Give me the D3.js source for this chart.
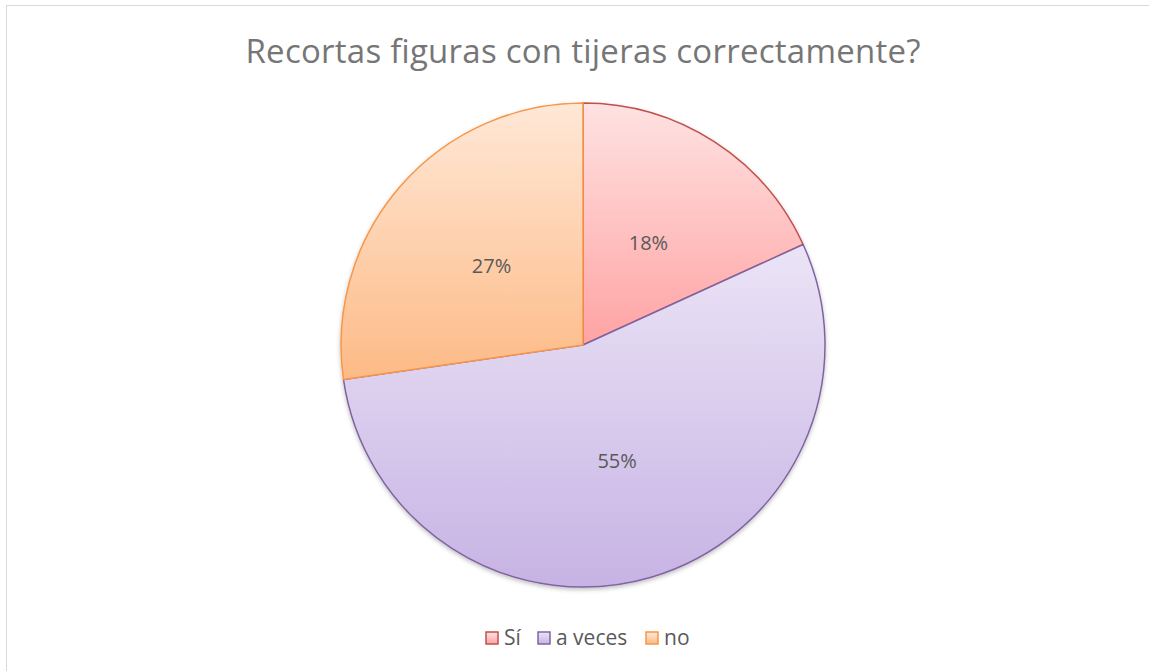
<!DOCTYPE html>
<html>
<head>
<meta charset="utf-8">
<script src="https://cdn.jsdelivr.net/npm/d3@7"></script>
<style>
  body { margin: 0; background: #fff; }
  svg { display: block; font-family: "Open Sans", Lato, sans-serif; }
</style>
</head>
<body>
<div id="chart"></div>
<script>
// chart data
const categories = ["Sí", "a veces", "no"];
const counts = [2, 6, 3];
const title = "Recortas figuras con tijeras correctamente?";

// styling per slice: stroke, gradient top, gradient bottom
const strokes = ["#c0504d", "#8064a2", "#f79646"];
const topColors = ["#ffe2e2", "#ebe4f6", "#ffe8d7"];
const bottomColors = ["#ffa3a3", "#c7b3e4", "#fdba86"];

const W = 1149, H = 671;
const cx = 583, cy = 345, radius = 242;

const svg = d3.select("#chart")
  .append("svg")
  .attr("width", W)
  .attr("height", H);

const defs = svg.append("defs");

categories.forEach((c, i) => {
  const g = defs.append("linearGradient")
    .attr("id", "grad" + i)
    .attr("x1", 0).attr("y1", 0)
    .attr("x2", 0).attr("y2", 1);
  g.append("stop").attr("offset", "0%").attr("stop-color", topColors[i]);
  g.append("stop").attr("offset", "100%").attr("stop-color", bottomColors[i]);
});

const shadow = defs.append("filter")
  .attr("id", "shadow")
  .attr("x", "-10%").attr("y", "-10%")
  .attr("width", "120%").attr("height", "120%");
shadow.append("feDropShadow")
  .attr("dx", 0).attr("dy", 2)
  .attr("stdDeviation", 2)
  .attr("flood-color", "#000")
  .attr("flood-opacity", 0.25);

// chart border
svg.append("rect")
  .attr("x", 6.5).attr("y", 5.5)
  .attr("width", W).attr("height", H)
  .attr("fill", "none")
  .attr("stroke", "#d9d9d9")
  .attr("stroke-width", 1);

// title
svg.append("text")
  .attr("x", cx)
  .attr("y", 63)
  .attr("text-anchor", "middle")
  .attr("fill", "#767676")
  .attr("textLength", 675)
  .attr("lengthAdjust", "spacing")
  .style("font-size", "33px")
  .text(title);

const total = d3.sum(counts);
const pie = d3.pie().sort(null).value(d => d);
const arcs = pie(counts);

const arc = d3.arc().innerRadius(0).outerRadius(radius);
const labelArc = d3.arc().innerRadius(radius * 0.5).outerRadius(radius * 0.5);

const g = svg.append("g")
  .attr("transform", `translate(${cx},${cy})`);

g.append("g")
  .attr("filter", "url(#shadow)")
  .selectAll("path")
  .data(arcs)
  .enter()
  .append("path")
  .attr("d", arc)
  .attr("fill", (d, i) => `url(#grad${i})`)
  .attr("stroke", (d, i) => strokes[i])
  .attr("stroke-width", 1.5)
  .attr("stroke-linejoin", "round");

g.selectAll("text.lbl")
  .data(arcs)
  .enter()
  .append("text")
  .attr("class", "lbl")
  .attr("transform", d => `translate(${labelArc.centroid(d)})`)
  .attr("text-anchor", "middle")
  .attr("dy", "0.35em")
  .attr("fill", "#595959")
  .style("font-size", "20px")
  .text(d => Math.round(d.value / total * 100) + "%");

// legend
const legend = svg.append("g").attr("transform", `translate(0,638)`);
const legendX = [485, 537, 645];
categories.forEach((c, i) => {
  const item = legend.append("g").attr("transform", `translate(${legendX[i]},0)`);
  item.append("rect")
    .attr("x", 1).attr("y", -6)
    .attr("width", 12).attr("height", 12)
    .attr("fill", `url(#grad${i})`)
    .attr("stroke", strokes[i])
    .attr("stroke-width", 1.5);
  item.append("text")
    .attr("x", 19)
    .attr("y", 0)
    .attr("dy", "0.35em")
    .attr("fill", "#595959")
    .style("font-size", "21px")
    .text(c);
});
</script>
</body>
</html>
